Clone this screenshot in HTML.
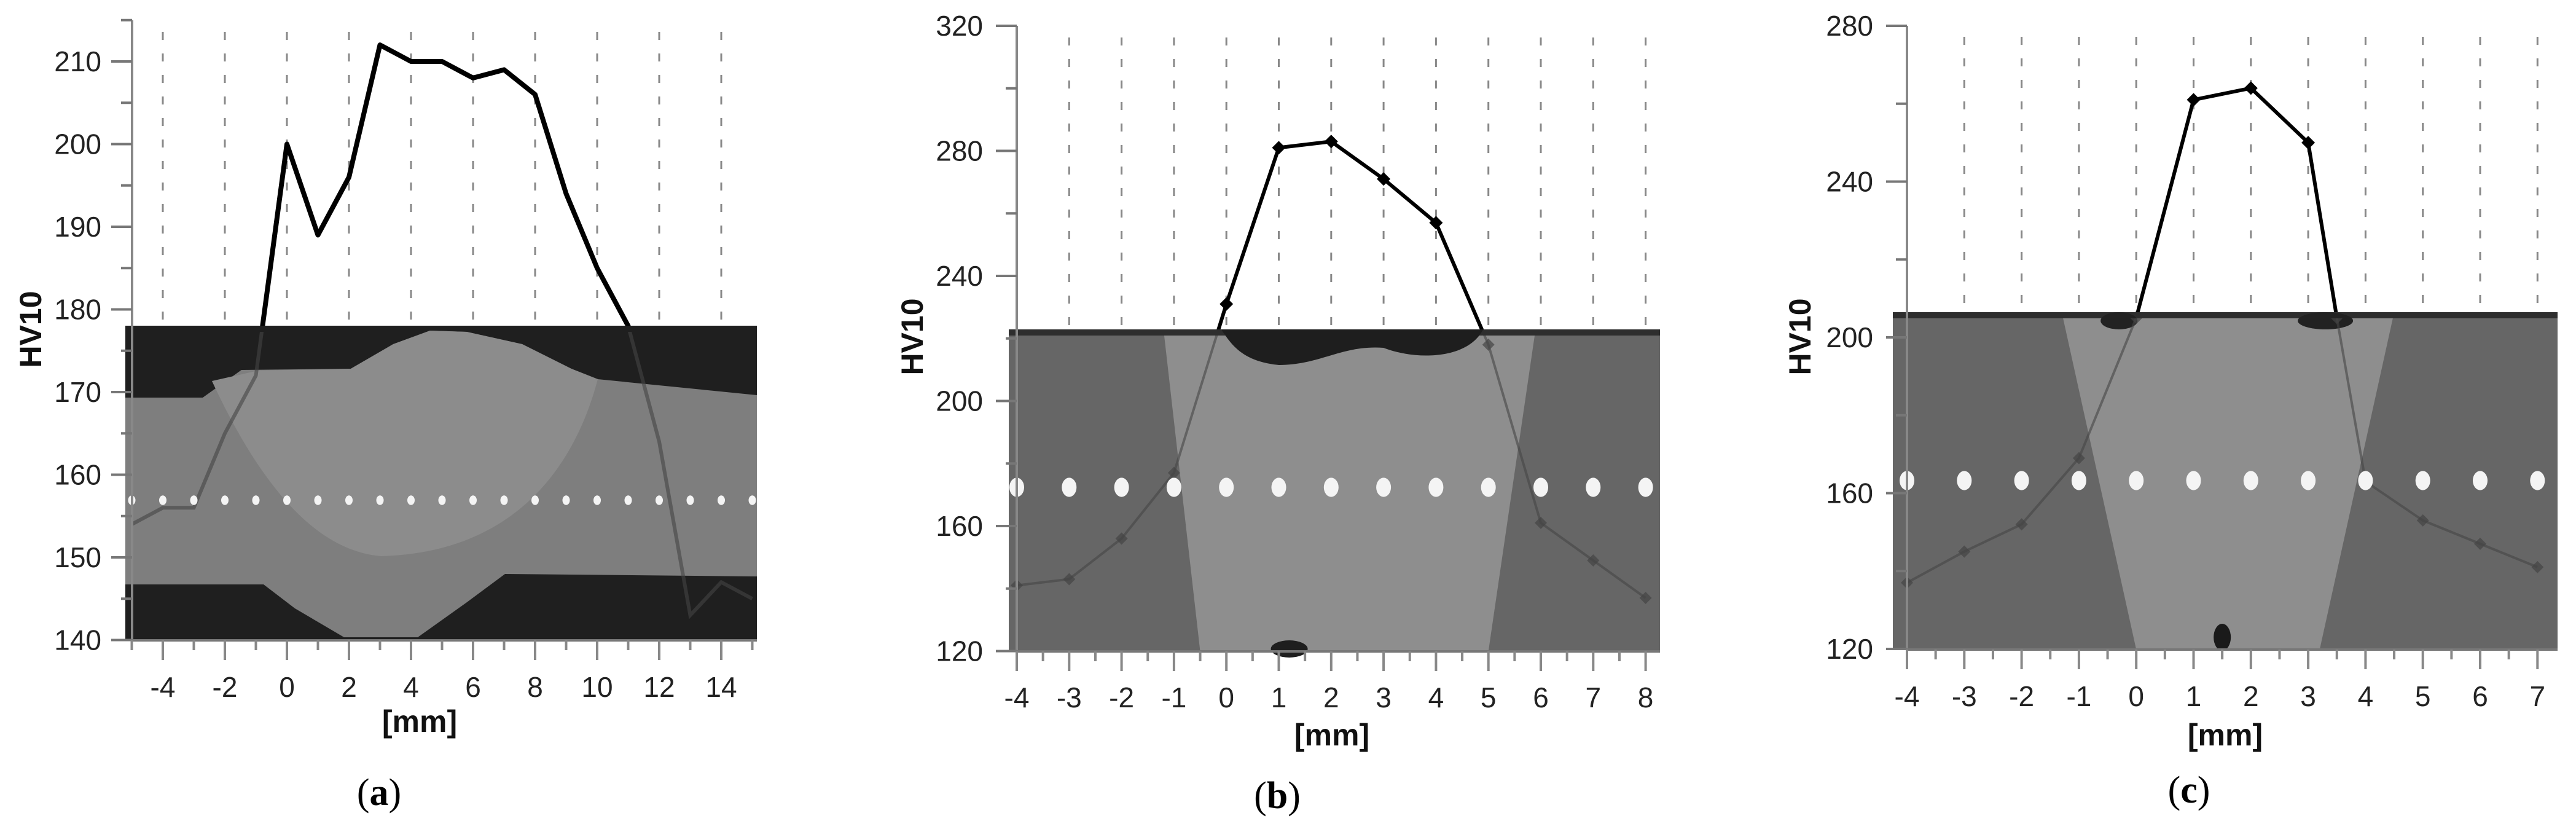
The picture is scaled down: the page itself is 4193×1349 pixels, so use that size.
<!DOCTYPE html>
<html><head><meta charset="utf-8"><style>
html,body{margin:0;padding:0;background:#fff;}
svg text{font-family:"Liberation Sans",Arial,sans-serif;}
</style></head><body>
<svg id="fig" xmlns="http://www.w3.org/2000/svg" width="4193" height="1344" viewBox="0 0 4193 1344">
<rect width="4193" height="1344" fill="#fff"/>
</svg>
<script>
// ---- data ----
const aX = [-5,-4,-3,-2,-1,0,1,2,3,4,5,6,7,8,9,10,11,12,13,14,15];
const aHV = [154,156,156,165,172,200,189,196,212,210,210,208,209,206,194,185,178,164,143,147,145];
const bX = [-4,-3,-2,-1,0,1,2,3,4,5,6,7,8];
const bHV = [141,143,156,177,231,281,283,271,257,218,161,149,137];
const cX = [-4,-3,-2,-1,0,1,2,3,3.5,4,5,6,7];
const cHV = [137,145,152,169,205,261,264,250,205,163,153,147,141];
const aYTicks = [140,150,160,170,180,190,200,210];
const aXTicks = [-4,-2,0,2,4,6,8,10,12,14];
const bYTicks = [120,160,200,240,280,320];
const bXTicks = [-4,-3,-2,-1,0,1,2,3,4,5,6,7,8];
const cYTicks = [120,160,200,240,280];
const cXTicks = [-4,-3,-2,-1,0,1,2,3,4,5,6,7];

const NS="http://www.w3.org/2000/svg";
const svg=document.getElementById('fig');
function el(tag,attrs,parent){const e=document.createElementNS(NS,tag);for(const k in attrs)e.setAttribute(k,attrs[k]);(parent||svg).appendChild(e);return e;}
function txt(s,x,y,size,extra,parent){const t=el('text',Object.assign({x:x,y:y,'font-size':size,fill:'#222','dominant-baseline':'central'},extra||{}),parent);t.textContent=s;return t;}

const panels=[
 {id:'a',X:aX,Y:aHV,yt:aYTicks,xt:aXTicks,
  xs:v=>467+50.5*v, ys:v=>100+(210-v)*13.45,
  axisX:215, axisTop:33, axisBot:1042, axisRight:1232, yMin:140,yMax:215, ymStep:5, xmin:-5,xmax:15.2, xmStep:1,
  grid:[-4,-2,0,2,4,6,8,10,12,14], gridTop:52, photo:[204,530,1232,1042],
  tickLblR:165, xLblY:1118, hvX:50, hvY:536, mmX:683, mmY:1174, capX:617, capY:1290, lw:8, markers:false, markY:814},
 {id:'b',X:bX,Y:bHV,yt:bYTicks,xt:bXTicks,
  xs:v=>1655+85.3*(v+4), ys:v=>42+(320-v)*5.0875,
  axisX:1655, axisTop:42, axisBot:1060, axisRight:2702, yMin:120,yMax:320, ymStep:20, xmin:-4,xmax:8.3, xmStep:0.5,
  grid:[-3,-2,-1,0,1,2,3,4,5,6,7,8], gridTop:61, photo:[1642,536,2702,1060],
  tickLblR:1600, xLblY:1135, hvX:1485, hvY:548, mmX:2168, mmY:1196, capX:2079, capY:1295, lw:6, markers:true, markY:793},
 {id:'c',X:cX,Y:cHV,yt:cYTicks,xt:cXTicks,
  xs:v=>3104+93.3*(v+4), ys:v=>42+(280-v)*6.3375,
  axisX:3104, axisTop:42, axisBot:1057, axisRight:4163, yMin:120,yMax:280, ymStep:20, xmin:-4,xmax:7.3, xmStep:0.5,
  grid:[-3,-2,-1,0,1,2,3,4,5,6,7], gridTop:60, photo:[3081,508,4163,1057],
  tickLblR:3049, xLblY:1133, hvX:2930, hvY:548, mmX:3622, mmY:1196, capX:3563, capY:1286, lw:6, markers:true, markY:782}
];

panels.forEach(p=>{
  const g=el('g',{});
  
  
  p.grid.forEach(v=>{
    const l=el('line',{x1:p.xs(v),x2:p.xs(v),y1:p.gridTop,y2:p.axisBot,stroke:'#888','stroke-width':3,'stroke-dasharray':'13 22'},g);
    
    
  });
  const pts=p.X.map((x,i)=>p.xs(x)+','+p.ys(p.Y[i])).join(' ');
  const pl=el('polyline',{points:pts,fill:'none',stroke:'#000','stroke-width':p.lw,'stroke-linejoin':'round'},g);
  
  
  if(p.markers){
    p.X.forEach((x,i)=>{
      const cx=p.xs(x),cy=p.ys(p.Y[i]),r=11;
      const m=el('polygon',{points:`${cx},${cy-r} ${cx+r},${cy} ${cx},${cy+r} ${cx-r},${cy}`,fill:'#000'},g);
      
      
    });
  }
  // photo (opaque)
  const [x0,y0,x1,y1]=p.photo;
  const ph=el('g',{},g);
  
  
  if(p.id==='a'){
    el('rect',{x:x0,y:y0,width:x1-x0,height:y1-y0,fill:'#1f1f1f'},ph);
    el('path',{d:`M204,647 L330,647 L393,602 L571,600 L640,560 L700,538 L760,540 L850,560 L930,600 L973,617 L1232,643 L1232,938 L822,934 L760,980 L680,1037 L560,1037 L480,990 L429,951 L204,951 Z`,fill:'#7e7e7e'},ph);
    el('path',{d:`M345,620 L420,603 L571,600 L640,560 L700,538 L760,540 L850,560 L930,600 L973,617 C930,780 820,900 620,905 C500,895 410,760 345,620 Z`,fill:'#8c8c8c'},ph);
  } else {
    el('rect',{x:x0,y:y0,width:x1-x0,height:y1-y0,fill:'#666'},ph);
    const a1=p.id==='b'?[-1.2,5.9,-0.5,5.0]:[-1.3,4.5,0.0,3.2];
    el('polygon',{points:`${p.xs(a1[0])},${y0} ${p.xs(a1[1])},${y0} ${p.xs(a1[3])},${y1} ${p.xs(a1[2])},${y1}`,fill:'#8e8e8e'},ph);
    el('rect',{x:x0,y:y0,width:x1-x0,height:10,fill:'#2e2e2e'},ph);
    if(p.id==='b'){
      el('path',{d:`M${p.xs(-0.1)},${y0} L${p.xs(4.9)},${y0} C${p.xs(4.6)},${y0+50} ${p.xs(3.6)},${y0+50} ${p.xs(3)},${y0+30} C${p.xs(2.2)},${y0+25} ${p.xs(1.8)},${y0+58} ${p.xs(1)},${y0+58} C${p.xs(0.3)},${y0+52} ${p.xs(0.1)},${y0+25} ${p.xs(-0.1)},${y0} Z`,fill:'#1e1e1e'},ph);
      el('ellipse',{cx:p.xs(1.2),cy:y1-4,rx:30,ry:14,fill:'#1e1e1e'},ph);
    } else {
      el('ellipse',{cx:p.xs(-0.3),cy:y0+14,rx:30,ry:14,fill:'#222'},ph);
      el('ellipse',{cx:p.xs(3.3),cy:y0+14,rx:45,ry:14,fill:'#222'},ph);
      el('ellipse',{cx:p.xs(1.5),cy:y1-20,rx:14,ry:22,fill:'#1a1a1a'},ph);
    }
  }
  // faint line seen through photo
  const clipId='clip'+p.id;
  const cp=el('clipPath',{id:clipId},g);
  el('rect',{x:x0,y:y0+10,width:x1-x0,height:y1-y0-10},cp);
  const fg=el('g',{'clip-path':`url(#${clipId})`},g);
  el('polyline',{points:pts,fill:'none',stroke:'#444','stroke-width':p.lw-2,'stroke-opacity':0.6},fg);
  if(p.markers){
    p.X.forEach((x,i)=>{
      const cx=p.xs(x),cy=p.ys(p.Y[i]),r=10;
      el('polygon',{points:`${cx},${cy-r} ${cx+r},${cy} ${cx},${cy+r} ${cx-r},${cy}`,fill:'#444','fill-opacity':0.7},fg);
    });
  }
  for(let v=Math.ceil(p.xmin);v<=Math.floor(p.xmax);v++){
    const cx=p.xs(v), r=p.id==='a'?6:12;
    const m=el('ellipse',{cx:cx,cy:p.markY,rx:r,ry:r*1.3,fill:'#f4f4f4'},g);
    
    
  }
  const ya=el('line',{x1:p.axisX,x2:p.axisX,y1:p.axisTop,y2:p.axisBot,stroke:'#888','stroke-width':4},g);
   
  const xa=el('line',{x1:p.axisX,x2:p.axisRight,y1:p.axisBot,y2:p.axisBot,stroke:'#777','stroke-width':4},g);
   
  for(let v=p.yMin; v<=p.yMax+0.01; v+=p.ymStep){
    const major=p.yt.includes(v);
    el('line',{x1:p.axisX-(major?34:18),x2:p.axisX,y1:p.ys(v),y2:p.ys(v),stroke:'#777','stroke-width':4},g);
  }
  for(let v=p.xmin; v<=p.xmax+0.01; v+=p.xmStep){
    const major=p.xt.includes(v);
    el('line',{x1:p.xs(v),x2:p.xs(v),y1:p.axisBot,y2:p.axisBot+(major?32:16),stroke:'#888','stroke-width':4},g);
  }
  p.yt.forEach(v=>{
    const t=txt(String(v),p.tickLblR,p.ys(v),46,{'text-anchor':'end'},g);
    
    
  });
  p.xt.forEach(v=>{
    const t=txt(String(v),p.xs(v),p.xLblY,46,{'text-anchor':'middle'},g);
    
    
  });
  const hv=txt('HV10',p.hvX,p.hvY,50,{'text-anchor':'middle','font-weight':'bold',fill:'#111',transform:`rotate(-90 ${p.hvX} ${p.hvY})`},g);
  
  
  const mm=txt('[mm]',p.mmX,p.mmY,50,{'text-anchor':'middle','font-weight':'bold',fill:'#111'},g);
  
  
  const cap=el('text',{x:p.capX,y:p.capY,'font-size':62,'text-anchor':'middle','dominant-baseline':'central',fill:'#000',style:'font-family:"Liberation Serif",serif'},g);
  
  
  cap.innerHTML='(<tspan font-weight="bold">'+p.id+'</tspan>)';
});
</script>
</body></html>
